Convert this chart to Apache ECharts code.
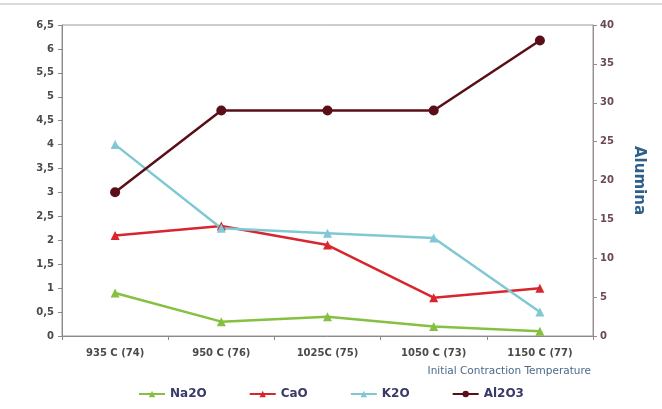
<!DOCTYPE html>
<html>
<head>
<meta charset="utf-8">
<script src="https://cdn.jsdelivr.net/npm/echarts@6/dist/echarts.min.js"></script>
<style>
  html, body { margin: 0; padding: 0; background: #fff; }
  #chart { width: 662px; height: 409px; }
</style>
</head>
<body>
<div id="chart"></div>
<script>
// Oxide content by initial contraction temperature
const categories = ['935 C (74)', '950 C (76)', '1025C (75)', '1050 C (73)', '1150 C (77)'];
const na2o = [0.9, 0.3, 0.4, 0.2, 0.1];
const cao = [2.1, 2.3, 1.9, 0.8, 1.0];
const k2o = [4.0, 2.25, 2.15, 2.05, 0.5];
const al2o3 = [18.5, 29, 29, 29, 38];

const labelColor = '#4a4a4a';
const fontFamily = '"DejaVu Sans", sans-serif';
const comma = v => String(v).replace('.', ',');

const chart = echarts.init(document.getElementById('chart'));

function lineSeries(name, data, color, symbol, size, yIndex) {
  return {
    name, type: 'line', data, yAxisIndex: yIndex,
    symbol, symbolSize: size,
    lineStyle: { color, width: 2.5 },
    itemStyle: { color },
    emphasis: { disabled: true }
  };
}

chart.setOption({
  animation: false,
  backgroundColor: '#fff',
  grid: { left: 62, right: 69, top: 25, bottom: 73, show: true, borderColor: '#9a9a9a', borderWidth: 1 },
  graphic: [{
    type: 'line', shape: { x1: 0, y1: 4, x2: 662, y2: 4 },
    style: { stroke: '#cfcfcf', lineWidth: 1.5 }
  }],
  legend: {
    bottom: 4, left: 'center', itemGap: 42, itemWidth: 26, itemHeight: 8,
    textStyle: { color: '#3a3a6a', fontFamily, fontWeight: 'bold', fontSize: 12 },
    data: ['Na2O', 'CaO', 'K2O', 'Al2O3']
  },
  xAxis: {
    type: 'category', data: categories, boundaryGap: true,
    axisLine: { lineStyle: { color: '#8a8a8a' } },
    axisTick: { show: true, length: 4, inside: false, lineStyle: { color: '#8a8a8a' } },
    axisLabel: { color: labelColor, fontFamily, fontWeight: 'bold', fontSize: 10, margin: 12 },
    name: 'Initial Contraction Temperature', nameLocation: 'end', nameGap: -2,
    nameTextStyle: { color: '#4a6a8a', fontFamily, fontSize: 10.5, align: 'right', verticalAlign: 'top', padding: [30, 0, 0, 0] }
  },
  yAxis: [{
    type: 'value', min: 0, max: 6.5, interval: 0.5,
    splitLine: { show: false },
    axisLine: { show: true, lineStyle: { color: '#8a8a8a' } },
    axisTick: { show: true, length: 4, lineStyle: { color: '#8a8a8a' } },
    axisLabel: { color: labelColor, fontFamily, fontWeight: 'bold', fontSize: 10, margin: 8, formatter: comma }
  }, {
    type: 'value', min: 0, max: 40, interval: 5, position: 'right',
    splitLine: { show: false },
    axisLine: { show: true, lineStyle: { color: '#9a8a90' } },
    axisTick: { show: true, length: 4, lineStyle: { color: '#9a8a90' } },
    axisLabel: { color: '#6a4a50', fontFamily, fontWeight: 'bold', fontSize: 10, margin: 7 },
    name: 'Alumina', nameLocation: 'middle', nameRotate: -90, nameGap: 38,
    nameTextStyle: { color: '#2e5e8a', fontFamily, fontWeight: 'bold', fontSize: 15 }
  }],
  series: [
    lineSeries('Na2O', na2o, '#86c040', 'triangle', 9, 0),
    lineSeries('CaO', cao, '#d8262e', 'triangle', 9, 0),
    lineSeries('K2O', k2o, '#80c8d4', 'triangle', 9, 0),
    lineSeries('Al2O3', al2o3, '#5a0f18', 'circle', 10, 1)
  ]
});
</script>
</body>
</html>
